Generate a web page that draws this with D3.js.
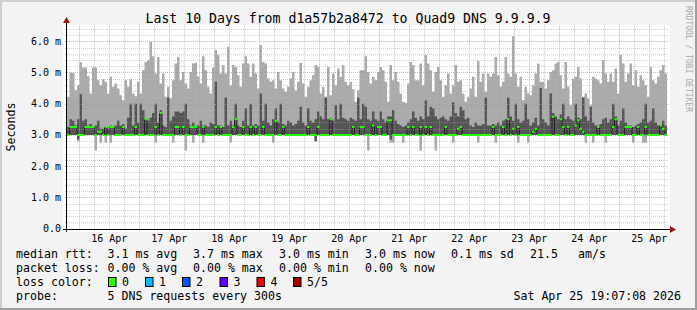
<!DOCTYPE html>
<html><head><meta charset="utf-8">
<script src="https://cdn.jsdelivr.net/npm/d3@7"></script>
<style>
body{margin:0;background:#f3f3f3}
svg{display:block}
text{font-family:"DejaVu Sans Mono",monospace;fill:#000}
</style>
</head><body>
<svg id="chart" width="697" height="310"></svg>
<script>
// ---------------- DATA ----------------
const chartTitle = "Last 10 Days from d1a57b2a8472 to Quad9 DNS 9.9.9.9";
const startTime = "2026-04-15T19:07:08Z";
const endTime = "2026-04-25T19:07:08Z";
const yTickValues = [0, 1, 2, 3, 4, 5, 6];
const yTickLabels = ["0.0", "1.0 m", "2.0 m", "3.0 m", "4.0 m", "5.0 m", "6.0 m"];
const xTickDates = ["2026-04-16","2026-04-17","2026-04-18","2026-04-19","2026-04-20","2026-04-21","2026-04-22","2026-04-23","2026-04-24","2026-04-25"];
const xTickLabels = ["16 Apr","17 Apr","18 Apr","19 Apr","20 Apr","21 Apr","22 Apr","23 Apr","24 Apr","25 Apr"];

// hourly values, ms (5 pings sorted: min, 2nd, median, 4th, max)
const smokeMax = [
4.22,4.99,4.99,4.43,4.60,5.33,5.16,5.16,4.88,4.33,
5.16,5.16,4.75,4.59,4.78,4.70,4.33,4.86,4.54,4.65,
4.49,4.27,4.11,4.75,4.54,4.78,4.33,4.24,4.70,4.33,
5.07,5.34,5.40,5.98,5.52,4.97,5.50,4.65,4.97,4.22,
4.54,4.17,4.75,5.29,5.50,4.75,5.02,4.65,4.49,5.02,
5.29,5.31,4.88,4.65,5.52,5.07,4.54,4.33,5.16,5.72,
5.56,
4.97,5.24,4.97,5.82,4.59,5.24,5.18,4.91,4.54,5.29,
5.52,5.29,4.86,5.29,4.97,4.49,5.88,5.34,5.29,4.81,
4.70,4.75,4.49,5.02,4.75,4.49,4.38,4.54,4.81,5.02,
4.43,4.70,5.31,4.65,4.22,4.54,4.75,4.91,5.24,5.18,
4.33,4.54,4.22,5.18,4.27,4.97,4.59,5.13,4.86,5.24,
4.70,4.59,4.70,4.46,4.06,4.43,5.07,5.07,5.52,5.02,
4.65,4.86,4.75,5.02,
5.18,5.07,4.70,4.06,5.24,4.75,5.02,4.70,4.33,4.06,
4.03,4.65,5.34,5.24,4.75,4.75,5.29,4.59,5.56,5.29,
5.07,4.38,5.02,5.18,4.75,4.22,4.59,4.97,4.33,4.59,
5.24,4.70,4.75,4.33,4.06,4.22,4.49,4.86,4.22,5.37,
4.70,4.97,4.38,4.97,4.86,4.97,5.50,4.91,4.54,4.70,
5.50,4.97,4.86,6.16,4.97,4.54,4.86,4.11,4.54,4.33,
4.27,4.59,4.97,5.29,
4.70,4.70,4.49,4.75,5.02,5.07,5.29,5.34,4.91,4.49,
5.34,4.54,3.95,4.81,4.86,5.18,4.81,4.22,4.33,4.17,
3.95,4.86,4.81,4.75,4.65,5.40,4.97,4.70,4.97,4.70,
5.13,4.33,5.56,5.29,4.70,4.97,5.29,4.59,5.07,4.54,
4.91,4.75,4.59,4.22,5.18,4.75,4.65,4.86,5.07,5.24,
4.97
];
const smokeUpper = [
3.25,3.50,3.45,3.30,3.50,4.30,3.45,3.50,3.30,3.35,
3.25,3.30,3.45,3.20,3.20,3.25,3.20,3.30,3.25,3.30,
3.45,3.30,3.35,3.20,3.55,4.00,3.30,4.00,3.40,4.00,
3.80,3.50,3.45,3.55,3.70,4.00,3.40,3.80,3.30,3.25,
4.20,3.45,3.60,3.75,3.75,3.70,3.75,4.00,3.50,3.30,
3.40,3.25,3.30,3.45,3.30,3.30,3.25,3.40,3.35,4.70,
3.30,3.30,3.25,4.20,3.30,3.45,3.30,4.00,3.30,3.25,
3.45,3.85,3.30,4.00,3.30,3.35,3.30,4.33,3.45,4.00,
3.40,3.30,3.50,3.85,3.40,4.00,3.35,3.30,3.45,3.40,
3.30,3.35,3.45,3.90,3.40,3.30,3.85,3.45,3.40,3.50,
3.75,3.60,3.50,4.20,3.50,3.55,3.45,3.95,3.50,4.00,
3.55,3.50,3.45,3.55,3.50,3.45,4.20,3.50,4.00,3.90,
3.50,3.45,3.75,3.50,3.45,3.75,3.50,3.40,3.60,3.60,
3.80,3.45,3.35,3.30,3.25,3.30,3.40,3.50,3.75,3.55,
3.45,3.60,3.50,4.10,3.60,3.90,3.85,3.60,3.50,3.55,
3.60,3.50,3.45,3.60,4.05,3.70,3.60,3.90,3.80,3.50,
3.55,3.30,3.25,3.40,3.30,3.30,3.35,4.20,3.30,3.30,
3.35,3.30,3.40,3.30,3.45,3.50,4.20,3.60,3.45,4.00,
3.50,3.40,3.45,4.00,3.50,3.30,3.40,3.55,3.30,4.50,
3.50,3.40,3.30,4.33,3.70,3.60,3.50,3.65,4.00,3.50,
3.60,3.50,3.45,4.00,3.55,3.50,4.20,3.60,3.45,3.90,
3.40,3.30,3.30,3.35,3.50,3.55,3.40,3.50,4.00,3.60,
3.30,3.45,3.85,3.40,3.30,3.30,3.25,3.30,3.35,3.40,
3.50,4.00,3.40,3.45,3.85,3.40,3.30,3.30,3.45,3.30
];
const medianRtt = [
3.00,3.25,3.25,3.25,3.00,3.00,3.00,3.25,3.25,3.25,
3.25,3.00,3.10,3.10,3.00,3.25,3.00,3.25,3.25,3.00,
3.00,3.00,3.25,3.00,3.00,3.00,3.00,3.25,3.00,3.00,
3.00,3.50,3.00,3.00,3.00,3.25,3.00,3.70,3.00,3.00,
3.00,3.00,3.00,3.25,3.25,3.00,3.25,3.00,3.00,3.25,
3.25,3.25,3.00,3.00,3.25,3.00,3.00,3.00,3.00,3.25,
3.00,3.25,3.00,3.00,3.00,3.00,3.25,3.50,3.00,3.00,
3.25,3.00,3.00,3.25,3.00,3.25,3.00,3.00,3.25,3.00,
3.00,3.00,3.00,3.45,3.00,3.00,3.25,3.00,3.00,3.00,
3.00,3.00,3.00,3.00,3.00,3.00,3.25,3.00,3.00,3.00,
3.25,3.00,3.00,3.00,3.00,3.50,3.00,3.00,3.00,3.00,
3.00,3.00,3.00,3.00,3.25,3.00,3.00,3.25,3.25,3.00,
3.00,3.00,3.30,3.00,3.25,3.25,3.00,3.00,3.47,3.47,
3.00,3.00,3.00,3.00,3.00,3.00,3.25,3.00,3.25,3.00,
3.00,3.25,3.00,3.25,3.00,3.25,3.00,3.00,3.00,3.00,
3.00,3.25,3.00,3.00,3.00,3.00,3.20,3.25,3.00,3.00,
3.00,3.00,3.00,3.00,3.00,3.00,3.00,3.00,3.00,3.00,
3.25,3.00,3.00,3.00,3.25,3.00,3.50,3.00,3.20,3.00,
3.25,3.00,3.00,3.00,3.00,3.00,3.10,3.20,3.00,3.00,
3.00,3.00,3.00,3.00,3.58,3.00,3.00,3.50,3.25,3.00,
3.25,3.00,3.00,3.30,3.47,3.20,3.10,3.00,3.00,3.00,
3.00,3.00,3.25,3.00,3.00,3.00,3.00,3.00,3.25,3.50,
3.00,3.00,3.00,3.25,3.25,3.25,3.00,3.00,3.25,3.00,
3.00,3.25,3.00,3.00,3.00,3.00,3.00,3.30,3.20,3.00
];
const smokeLower = [
3.00,3.00,3.00,3.00,2.85,3.00,3.00,3.00,3.00,3.00,
3.00,3.00,3.00,3.00,3.00,3.00,3.00,3.00,3.00,3.00,
3.00,3.00,3.00,3.00,3.00,3.00,3.00,3.00,3.00,3.00,
3.00,3.00,3.00,3.00,3.00,3.00,3.00,3.00,3.00,3.00,
3.00,3.00,3.00,3.00,3.00,3.00,3.00,3.00,3.00,3.00,
3.00,3.00,3.00,3.00,3.00,3.00,3.00,3.00,3.00,3.00,
3.00,3.00,3.00,3.00,3.00,3.00,3.00,3.00,3.00,3.00,
3.00,3.00,3.00,3.00,3.00,3.00,3.00,3.00,3.00,3.00,
3.00,3.00,3.00,3.00,3.00,3.00,3.00,3.00,3.00,3.00,
3.00,3.00,3.00,3.00,3.00,3.00,3.00,3.00,3.00,2.80,
3.00,3.00,3.00,3.00,3.00,3.00,3.00,3.00,3.00,3.00,
3.00,3.00,3.00,3.00,3.00,3.00,3.00,3.00,3.00,3.00,
3.00,3.00,3.00,3.00,3.00,3.00,3.00,3.00,3.00,2.85,
3.00,3.00,3.00,3.00,3.00,3.00,3.00,3.00,3.00,3.00,
3.00,3.00,3.00,3.00,3.00,3.00,3.00,3.00,3.00,3.00,
3.00,3.00,3.00,3.00,3.00,3.00,3.00,3.00,3.00,3.00,
3.00,3.00,3.00,3.00,3.00,3.00,3.00,3.00,3.00,3.00,
3.00,3.00,3.00,3.00,3.00,3.00,3.00,3.00,3.00,3.00,
3.00,3.00,3.00,3.00,3.00,3.00,3.00,3.00,3.00,3.00,
3.00,3.00,3.00,3.00,3.00,3.00,3.00,3.00,3.00,3.00,
3.00,3.00,3.00,3.00,3.00,3.00,3.00,3.00,3.00,3.00,
3.00,3.00,3.00,3.00,3.00,3.00,3.00,3.00,3.00,3.00,
3.00,3.00,3.00,3.00,3.00,3.00,3.00,3.00,3.00,3.00,
3.00,3.00,3.00,3.00,3.00,3.00,3.00,3.00,3.00,3.00
];
const smokeMin = [
3.00,3.00,3.00,3.00,2.80,3.00,3.00,3.00,3.00,3.00,
3.00,2.50,3.00,2.75,3.00,2.75,3.00,2.75,3.00,3.00,
3.00,3.00,3.00,3.00,3.00,3.00,3.00,3.00,3.00,3.00,
3.00,3.00,3.00,3.00,3.00,2.75,3.00,3.00,3.00,3.00,
3.00,3.00,2.75,3.00,3.00,3.00,3.00,2.50,3.00,3.00,
2.75,3.00,3.00,3.00,2.75,3.00,3.00,3.00,3.00,3.00,
3.00,3.00,3.00,3.00,3.00,2.75,3.00,3.00,3.00,3.00,
3.00,3.00,3.00,3.00,3.00,3.00,3.00,3.00,3.00,3.00,
3.00,3.00,2.75,3.00,3.00,3.00,3.00,3.00,3.00,3.00,
3.00,3.00,3.00,3.00,3.00,3.00,3.00,3.00,3.00,2.80,
3.00,3.00,3.00,3.00,3.00,3.00,3.00,3.00,3.00,3.00,
3.00,3.00,3.00,3.00,3.00,3.00,3.00,3.00,3.00,3.00,
2.50,3.00,3.00,3.00,3.00,3.00,3.00,3.00,3.00,2.75,
2.75,3.00,3.00,3.00,2.75,3.00,3.00,3.00,3.00,3.00,
3.00,2.50,3.00,3.00,3.00,3.00,3.00,2.50,3.00,3.00,
3.00,3.00,3.00,3.00,2.75,3.00,3.00,3.00,3.00,3.00,
3.00,3.00,3.00,3.00,2.75,3.00,3.00,3.00,3.00,3.00,
3.00,2.75,3.00,3.00,3.00,3.00,3.00,3.00,3.00,3.00,
2.75,3.00,3.00,3.00,2.75,3.00,3.00,3.00,3.00,3.00,
3.00,3.00,3.00,3.00,3.00,3.00,3.00,3.00,3.00,3.00,
3.00,3.00,3.00,3.00,3.00,3.00,3.00,2.75,3.00,3.00,
2.75,3.00,3.00,3.00,3.00,2.75,3.00,3.00,3.00,3.00,
3.00,3.00,3.00,3.00,3.00,3.00,2.75,3.00,3.00,3.00,
2.75,2.75,3.00,3.00,3.00,3.00,3.00,3.00,3.00,3.00
];

const legendRtt = ["3.1 ms avg", "3.7 ms max", "3.0 ms min", "3.0 ms now", "0.1 ms sd", "21.5", "am/s"];
const legendLoss = ["0.00 % avg", "0.00 % max", "0.00 % min", "0.00 % now"];
const lossLabels = ["0", "1", "2", "3", "4", "5/5"];
const lossColors = ["#26ff00", "#00b8ff", "#0059ff", "#5e00ff", "#ff0000", "#a00000"];
const probeText = "5 DNS requests every 300s";
const stampText = "Sat Apr 25 19:07:08 2026";

// ---------------- DRAW ----------------
const svg = d3.select("#chart");
const W = 697, H = 310;
const X0 = 67, X1 = 667, YB = 228.5, YT = 25.7;

svg.append("rect").attr("width", W).attr("height", H).attr("fill", "#f3f3f3");
// frame
svg.append("rect").attr("x", 0).attr("y", 0).attr("width", W).attr("height", 2).attr("fill", "#cfcfcf");
svg.append("rect").attr("x", 0).attr("y", 0).attr("width", 2).attr("height", H).attr("fill", "#cfcfcf");
svg.append("rect").attr("x", 0).attr("y", H - 2).attr("width", W).attr("height", 2).attr("fill", "#9e9e9e");
svg.append("rect").attr("x", W - 2).attr("y", 0).attr("width", 2).attr("height", H).attr("fill", "#9e9e9e");

// canvas
svg.append("rect").attr("x", 63).attr("y", 25).attr("width", 607).attr("height", 207).attr("fill", "#ffffff");

const t0 = new Date(startTime), t1 = new Date(endTime);
const x = d3.scaleUtc().domain([t0, t1]).range([X0, X1]);
const y = d3.scaleLinear().domain([0, 6.5]).range([YB, YT]);

const HOUR = 3600 * 1000;
const data = smokeMax.map((v, i) => ({
  t: new Date(t0.getTime() + i * HOUR),
  max: v, up: smokeUpper[i], med: medianRtt[i], low: smokeLower[i], min: smokeMin[i]
}));
data.push(Object.assign({}, data[data.length - 1], { t: t1 }));

// minor grid (under data too, so it shows on white)
const gridUnder = svg.append("g").attr("fill", "none").attr("stroke-width", 1).attr("stroke-dasharray", "1,1");
const minorY = d3.range(0, 6.5, 0.2).map(v => +v.toFixed(1)).filter(v => Math.abs(v - Math.round(v)) > 1e-6);
const minorX = d3.utcHour.every(6).range(t0, t1).filter(d => d.getUTCHours() !== 0);
minorY.forEach(v => {
  const yy = Math.round(y(v)) + 0.5;
  gridUnder.append("line").attr("x1", X0 - 2).attr("x2", X1 + 2).attr("y1", yy).attr("y2", yy).attr("stroke", "#d2d2d2");
});
minorX.forEach(d => {
  const xx = Math.round(x(d)) + 0.5;
  gridUnder.append("line").attr("x1", xx).attr("x2", xx).attr("y1", YT).attr("y2", YB + 2).attr("stroke", "#d2d2d2");
});

const plot = svg.append("g");
plot.append("path").datum(data)
  .attr("fill", "#aaaaaa")
  .attr("d", d3.area().curve(d3.curveStepAfter).x(d => x(d.t)).y0(d => y(d.min)).y1(d => y(d.max)));
plot.append("path").datum(data)
  .attr("fill", "#555555")
  .attr("d", d3.area().curve(d3.curveStepAfter).x(d => x(d.t)).y0(d => y(d.low)).y1(d => y(d.up)));
plot.append("path").datum(data)
  .attr("fill", "none").attr("stroke", "#202020").attr("stroke-width", 1)
  .attr("d", d3.line().curve(d3.curveStepAfter).x(d => x(d.t)).y(d => y(d.med)));
plot.append("path").datum(data)
  .attr("fill", lossColors[0])
  .attr("d", d3.area().curve(d3.curveStepAfter).x(d => x(d.t)).y0(d => y(d.med) + 1).y1(d => y(d.med) - 1));

// grid on top (faint over data)
const grid = svg.append("g").attr("fill", "none").attr("stroke-width", 1).attr("stroke-dasharray", "1,1");
minorY.forEach(v => {
  const yy = Math.round(y(v)) + 0.5;
  grid.append("line").attr("x1", X0).attr("x2", X1).attr("y1", yy).attr("y2", yy).attr("stroke", "rgba(200,200,200,0.3)");
});
minorX.forEach(d => {
  const xx = Math.round(x(d)) + 0.5;
  grid.append("line").attr("x1", xx).attr("x2", xx).attr("y1", YT).attr("y2", YB).attr("stroke", "rgba(200,200,200,0.3)");
});
yTickValues.forEach(v => {
  if (v === 0) return;
  const yy = Math.round(y(v)) + 0.5;
  grid.append("line").attr("x1", X0 - 2).attr("x2", X1 + 2).attr("y1", yy).attr("y2", yy).attr("stroke", "rgba(230,130,130,0.7)");
});
d3.utcDay.range(t0, t1).forEach(d => {
  const xx = Math.round(x(d)) + 0.5;
  grid.append("line").attr("x1", xx).attr("x2", xx).attr("y1", YT).attr("y2", YB + 3).attr("stroke", "rgba(230,130,130,0.7)");
});

// axes
const axisY0 = Math.round(YB) + 0.5;
svg.append("line").attr("x1", 63).attr("x2", 671).attr("y1", axisY0).attr("y2", axisY0).attr("stroke", "#000");
svg.append("path").attr("d", `M670,${axisY0 - 3.5}L676,${axisY0}L670,${axisY0 + 3.5}Z`).attr("fill", "#9b1414");
svg.append("line").attr("x1", X0 - 0.5).attr("x2", X0 - 0.5).attr("y1", 232).attr("y2", 22).attr("stroke", "#000");
svg.append("path").attr("d", `M${X0 - 4},23L${X0 - 0.5},17L${X0 + 3},23Z`).attr("fill", "#9b1414");

// y labels
yTickValues.forEach((v, i) => {
  svg.append("text").attr("x", 61).attr("y", y(v) + 3.5).attr("text-anchor", "end")
    .attr("font-size", 10).text(yTickLabels[i]);
});
// x labels at noon
xTickDates.forEach((ds, i) => {
  const noon = new Date(ds + "T12:00:00Z");
  svg.append("text").attr("x", x(noon)).attr("y", 242).attr("text-anchor", "middle")
    .attr("font-size", 10).text(xTickLabels[i]);
});

// title
svg.append("text").attr("x", 348).attr("y", 23).attr("text-anchor", "middle")
  .attr("font-size", 13.2).text(chartTitle);
// vertical label
svg.append("text").attr("transform", "translate(11,127) rotate(-90)")
  .attr("text-anchor", "middle").attr("dominant-baseline", "central")
  .attr("font-size", 11.6).text("Seconds");
// watermark
svg.append("text").attr("transform", "translate(688,59) rotate(90)")
  .attr("text-anchor", "middle").attr("dominant-baseline", "central")
  .attr("font-size", 8).style("fill", "#a8a8a8").text("RRDTOOL / TOBI OETIKER");

// legend
const LF = 11.6;
const rowY = [258, 272, 286, 300];
const colX = [107.5, 193, 279, 365, 451, 530, 578];
const lg = svg.append("g").attr("font-size", LF);
lg.append("text").attr("x", 16).attr("y", rowY[0]).text("median rtt:");
legendRtt.forEach((s, i) => lg.append("text").attr("x", colX[i]).attr("y", rowY[0]).text(s));
lg.append("text").attr("x", 16).attr("y", rowY[1]).text("packet loss:");
legendLoss.forEach((s, i) => lg.append("text").attr("x", colX[i]).attr("y", rowY[1]).text(s));
lg.append("text").attr("x", 16).attr("y", rowY[2]).text("loss color:");
const boxX = [108, 145, 182, 219.5, 256.5, 293];
lossLabels.forEach((s, i) => {
  lg.append("rect").attr("x", boxX[i] + 0.5).attr("y", rowY[2] - 8.5).attr("width", 7.5).attr("height", 9)
    .attr("fill", lossColors[i]).attr("stroke", "#000").attr("stroke-width", 1);
  lg.append("text").attr("x", boxX[i] + 14).attr("y", rowY[2]).text(s);
});
lg.append("text").attr("x", 16).attr("y", rowY[3]).text("probe:");
lg.append("text").attr("x", 107.5).attr("y", rowY[3]).text(probeText);
lg.append("text").attr("x", 681).attr("y", rowY[3]).attr("text-anchor", "end").text(stampText);
</script>
</body></html>
